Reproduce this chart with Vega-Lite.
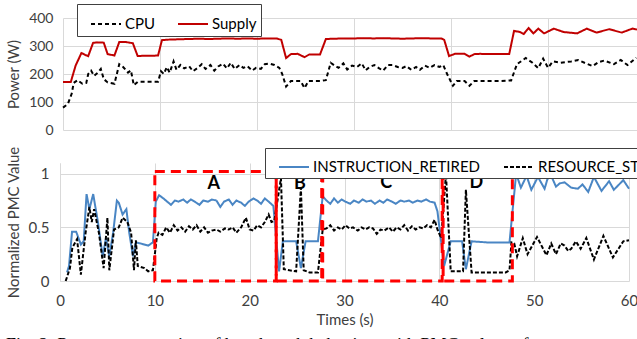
{
  "$schema": "https://vega.github.io/schema/vega-lite/v6.json",
  "padding": {"left": 5, "top": 3, "right": 0, "bottom": 0},
  "spacing": 8,
  "resolve": {"scale": {"color": "independent", "strokeDash": "independent", "x": "independent", "y": "independent"}, "legend": {"color": "independent", "strokeDash": "independent"}},
  "config": {
    "view": {"stroke": null},
    "font": "Lato",
    "axis": {"gridColor": "#D9D9D9", "gridWidth": 1, "labelColor": "#404040", "titleColor": "#404040", "titleFontWeight": "normal", "domainColor": "#D9D9D9", "ticks": false}
  },
  "title": {"text": "Fig. 2:  Power  consumption  of  benchmark  behaviors  with  PMC  values  of", "orient": "bottom", "anchor": "start", "font": "Liberation Serif", "fontSize": 18, "fontWeight": "normal", "color": "#000000", "offset": 10},
  "datasets": {
    "power": [
      {"t":0,"W":171,"s":"Supply"},{"t":0.8,"W":171,"s":"Supply"},{"t":1.3,"W":230,"s":"Supply"},{"t":1.9,"W":275,"s":"Supply"},{"t":2.3,"W":268,"s":"Supply"},{"t":2.6,"W":264,"s":"Supply"},{"t":3.1,"W":311,"s":"Supply"},{"t":3.5,"W":313,"s":"Supply"},{"t":4.2,"W":312,"s":"Supply"},{"t":4.6,"W":271,"s":"Supply"},{"t":5.3,"W":266,"s":"Supply"},{"t":5.8,"W":314,"s":"Supply"},{"t":6.5,"W":314,"s":"Supply"},{"t":7.2,"W":310,"s":"Supply"},{"t":7.7,"W":264,"s":"Supply"},{"t":8.2,"W":265,"s":"Supply"},{"t":9,"W":265,"s":"Supply"},{"t":9.8,"W":266,"s":"Supply"},{"t":10.2,"W":321,"s":"Supply"},{"t":11,"W":323,"s":"Supply"},{"t":12,"W":324,"s":"Supply"},{"t":13,"W":325,"s":"Supply"},{"t":14,"W":326,"s":"Supply"},{"t":15,"W":325,"s":"Supply"},{"t":16,"W":326,"s":"Supply"},{"t":17,"W":327,"s":"Supply"},{"t":18,"W":326,"s":"Supply"},{"t":19,"W":327,"s":"Supply"},{"t":20,"W":326,"s":"Supply"},{"t":21,"W":327,"s":"Supply"},{"t":22,"W":327,"s":"Supply"},{"t":22.5,"W":322,"s":"Supply"},{"t":23.0,"W":257,"s":"Supply"},{"t":23.5,"W":271,"s":"Supply"},{"t":24.2,"W":272,"s":"Supply"},{"t":24.9,"W":260,"s":"Supply"},{"t":25.4,"W":270,"s":"Supply"},{"t":26.5,"W":270,"s":"Supply"},{"t":27.1,"W":325,"s":"Supply"},{"t":28,"W":326,"s":"Supply"},{"t":29,"W":327,"s":"Supply"},{"t":30,"W":327,"s":"Supply"},{"t":31,"W":328,"s":"Supply"},{"t":32,"W":327,"s":"Supply"},{"t":33,"W":328,"s":"Supply"},{"t":34,"W":327,"s":"Supply"},{"t":35,"W":326,"s":"Supply"},{"t":36,"W":327,"s":"Supply"},{"t":37,"W":328,"s":"Supply"},{"t":38,"W":327,"s":"Supply"},{"t":39,"W":327,"s":"Supply"},{"t":39.3,"W":322,"s":"Supply"},{"t":39.8,"W":264,"s":"Supply"},{"t":40.4,"W":272,"s":"Supply"},{"t":41.4,"W":272,"s":"Supply"},{"t":41.9,"W":262,"s":"Supply"},{"t":42.4,"W":271,"s":"Supply"},{"t":43,"W":272,"s":"Supply"},{"t":44,"W":271,"s":"Supply"},{"t":45,"W":271,"s":"Supply"},{"t":46,"W":271,"s":"Supply"},{"t":46.5,"W":354,"s":"Supply"},{"t":47.1,"W":350,"s":"Supply"},{"t":47.5,"W":343,"s":"Supply"},{"t":48.0,"W":364,"s":"Supply"},{"t":48.5,"W":345,"s":"Supply"},{"t":49.0,"W":362,"s":"Supply"},{"t":49.6,"W":345,"s":"Supply"},{"t":50.6,"W":362,"s":"Supply"},{"t":51.6,"W":350,"s":"Supply"},{"t":53.0,"W":345,"s":"Supply"},{"t":54.0,"W":362,"s":"Supply"},{"t":55.0,"W":348,"s":"Supply"},{"t":56.3,"W":360,"s":"Supply"},{"t":57.6,"W":348,"s":"Supply"},{"t":58.7,"W":362,"s":"Supply"},{"t":59.3,"W":358,"s":"Supply"},
      {"t":0,"W":80,"s":"CPU"},{"t":0.5,"W":93,"s":"CPU"},{"t":0.9,"W":130,"s":"CPU"},{"t":1.1,"W":168,"s":"CPU"},{"t":1.5,"W":178,"s":"CPU"},{"t":2.0,"W":165,"s":"CPU"},{"t":2.4,"W":168,"s":"CPU"},{"t":2.6,"W":200,"s":"CPU"},{"t":2.9,"W":212,"s":"CPU"},{"t":3.2,"W":193,"s":"CPU"},{"t":3.6,"W":205,"s":"CPU"},{"t":3.9,"W":218,"s":"CPU"},{"t":4.2,"W":182,"s":"CPU"},{"t":4.6,"W":170,"s":"CPU"},{"t":5.3,"W":165,"s":"CPU"},{"t":5.8,"W":235,"s":"CPU"},{"t":6.2,"W":225,"s":"CPU"},{"t":6.7,"W":205,"s":"CPU"},{"t":7.0,"W":213,"s":"CPU"},{"t":7.3,"W":160,"s":"CPU"},{"t":7.7,"W":172,"s":"CPU"},{"t":8.5,"W":172,"s":"CPU"},{"t":9.8,"W":172,"s":"CPU"},{"t":10.1,"W":210,"s":"CPU"},{"t":10.4,"W":200,"s":"CPU"},{"t":10.7,"W":225,"s":"CPU"},{"t":11.0,"W":205,"s":"CPU"},{"t":11.4,"W":245,"s":"CPU"},{"t":11.7,"W":215,"s":"CPU"},{"t":12.1,"W":232,"s":"CPU"},{"t":12.5,"W":220,"s":"CPU"},{"t":13.0,"W":228,"s":"CPU"},{"t":13.4,"W":210,"s":"CPU"},{"t":13.9,"W":222,"s":"CPU"},{"t":14.3,"W":235,"s":"CPU"},{"t":14.7,"W":218,"s":"CPU"},{"t":15.2,"W":232,"s":"CPU"},{"t":15.6,"W":212,"s":"CPU"},{"t":16.0,"W":227,"s":"CPU"},{"t":16.5,"W":237,"s":"CPU"},{"t":16.9,"W":220,"s":"CPU"},{"t":17.3,"W":240,"s":"CPU"},{"t":17.7,"W":218,"s":"CPU"},{"t":18.2,"W":232,"s":"CPU"},{"t":18.6,"W":222,"s":"CPU"},{"t":19.0,"W":228,"s":"CPU"},{"t":19.5,"W":212,"s":"CPU"},{"t":19.9,"W":222,"s":"CPU"},{"t":20.4,"W":218,"s":"CPU"},{"t":20.8,"W":235,"s":"CPU"},{"t":21.3,"W":237,"s":"CPU"},{"t":21.8,"W":232,"s":"CPU"},{"t":22.3,"W":222,"s":"CPU"},{"t":22.6,"W":200,"s":"CPU"},{"t":23.0,"W":155,"s":"CPU"},{"t":23.5,"W":175,"s":"CPU"},{"t":24.0,"W":175,"s":"CPU"},{"t":24.5,"W":175,"s":"CPU"},{"t":24.9,"W":150,"s":"CPU"},{"t":25.3,"W":175,"s":"CPU"},{"t":26.5,"W":175,"s":"CPU"},{"t":27.1,"W":178,"s":"CPU"},{"t":27.6,"W":240,"s":"CPU"},{"t":28.0,"W":230,"s":"CPU"},{"t":28.4,"W":222,"s":"CPU"},{"t":28.9,"W":238,"s":"CPU"},{"t":29.3,"W":216,"s":"CPU"},{"t":29.8,"W":230,"s":"CPU"},{"t":30.3,"W":225,"s":"CPU"},{"t":30.8,"W":238,"s":"CPU"},{"t":31.2,"W":213,"s":"CPU"},{"t":31.6,"W":225,"s":"CPU"},{"t":32.1,"W":232,"s":"CPU"},{"t":32.6,"W":220,"s":"CPU"},{"t":33.0,"W":212,"s":"CPU"},{"t":33.5,"W":232,"s":"CPU"},{"t":34.0,"W":232,"s":"CPU"},{"t":34.5,"W":225,"s":"CPU"},{"t":35.0,"W":222,"s":"CPU"},{"t":35.4,"W":228,"s":"CPU"},{"t":35.9,"W":215,"s":"CPU"},{"t":36.4,"W":225,"s":"CPU"},{"t":36.8,"W":215,"s":"CPU"},{"t":37.3,"W":230,"s":"CPU"},{"t":37.8,"W":222,"s":"CPU"},{"t":38.3,"W":232,"s":"CPU"},{"t":38.8,"W":225,"s":"CPU"},{"t":39.2,"W":232,"s":"CPU"},{"t":39.6,"W":200,"s":"CPU"},{"t":40.2,"W":158,"s":"CPU"},{"t":40.6,"W":175,"s":"CPU"},{"t":41.4,"W":175,"s":"CPU"},{"t":41.9,"W":158,"s":"CPU"},{"t":42.4,"W":175,"s":"CPU"},{"t":43.5,"W":175,"s":"CPU"},{"t":45,"W":175,"s":"CPU"},{"t":46.2,"W":177,"s":"CPU"},{"t":46.8,"W":235,"s":"CPU"},{"t":47.7,"W":257,"s":"CPU"},{"t":48.4,"W":240,"s":"CPU"},{"t":49.0,"W":221,"s":"CPU"},{"t":49.5,"W":255,"s":"CPU"},{"t":50.0,"W":222,"s":"CPU"},{"t":50.5,"W":245,"s":"CPU"},{"t":51.3,"W":240,"s":"CPU"},{"t":52.4,"W":245,"s":"CPU"},{"t":53.1,"W":250,"s":"CPU"},{"t":54.1,"W":235,"s":"CPU"},{"t":54.6,"W":228,"s":"CPU"},{"t":55.2,"W":242,"s":"CPU"},{"t":55.8,"W":248,"s":"CPU"},{"t":56.8,"W":235,"s":"CPU"},{"t":57.5,"W":250,"s":"CPU"},{"t":58.2,"W":232,"s":"CPU"},{"t":59.1,"W":258,"s":"CPU"}
    ],
    "pmc": [
      {"t":0.74,"v":0.08,"s":"INSTRUCTION_RETIRED"},{"t":0.95,"v":0.14,"s":"INSTRUCTION_RETIRED"},{"t":1.27,"v":0.46,"s":"INSTRUCTION_RETIRED"},{"t":1.7,"v":0.46,"s":"INSTRUCTION_RETIRED"},{"t":2.2,"v":0.34,"s":"INSTRUCTION_RETIRED"},{"t":2.5,"v":0.37,"s":"INSTRUCTION_RETIRED"},{"t":2.8,"v":0.81,"s":"INSTRUCTION_RETIRED"},{"t":3.1,"v":0.67,"s":"INSTRUCTION_RETIRED"},{"t":3.5,"v":0.81,"s":"INSTRUCTION_RETIRED"},{"t":4.0,"v":0.55,"s":"INSTRUCTION_RETIRED"},{"t":4.5,"v":0.23,"s":"INSTRUCTION_RETIRED"},{"t":4.85,"v":0.40,"s":"INSTRUCTION_RETIRED"},{"t":5.2,"v":0.23,"s":"INSTRUCTION_RETIRED"},{"t":5.6,"v":0.45,"s":"INSTRUCTION_RETIRED"},{"t":6.0,"v":0.75,"s":"INSTRUCTION_RETIRED"},{"t":6.2,"v":0.73,"s":"INSTRUCTION_RETIRED"},{"t":6.6,"v":0.62,"s":"INSTRUCTION_RETIRED"},{"t":7.0,"v":0.67,"s":"INSTRUCTION_RETIRED"},{"t":7.3,"v":0.45,"s":"INSTRUCTION_RETIRED"},{"t":7.7,"v":0.23,"s":"INSTRUCTION_RETIRED"},{"t":8.0,"v":0.36,"s":"INSTRUCTION_RETIRED"},{"t":8.5,"v":0.35,"s":"INSTRUCTION_RETIRED"},{"t":9.3,"v":0.33,"s":"INSTRUCTION_RETIRED"},{"t":9.8,"v":0.36,"s":"INSTRUCTION_RETIRED"},{"t":10.1,"v":0.74,"s":"INSTRUCTION_RETIRED"},{"t":10.45,"v":0.80,"s":"INSTRUCTION_RETIRED"},{"t":10.9,"v":0.77,"s":"INSTRUCTION_RETIRED"},{"t":11.3,"v":0.74,"s":"INSTRUCTION_RETIRED"},{"t":11.7,"v":0.71,"s":"INSTRUCTION_RETIRED"},{"t":12.1,"v":0.75,"s":"INSTRUCTION_RETIRED"},{"t":12.5,"v":0.74,"s":"INSTRUCTION_RETIRED"},{"t":13.0,"v":0.76,"s":"INSTRUCTION_RETIRED"},{"t":13.4,"v":0.73,"s":"INSTRUCTION_RETIRED"},{"t":13.8,"v":0.76,"s":"INSTRUCTION_RETIRED"},{"t":14.2,"v":0.74,"s":"INSTRUCTION_RETIRED"},{"t":14.7,"v":0.71,"s":"INSTRUCTION_RETIRED"},{"t":15.1,"v":0.75,"s":"INSTRUCTION_RETIRED"},{"t":15.6,"v":0.74,"s":"INSTRUCTION_RETIRED"},{"t":16.0,"v":0.76,"s":"INSTRUCTION_RETIRED"},{"t":16.5,"v":0.75,"s":"INSTRUCTION_RETIRED"},{"t":16.9,"v":0.69,"s":"INSTRUCTION_RETIRED"},{"t":17.3,"v":0.74,"s":"INSTRUCTION_RETIRED"},{"t":17.8,"v":0.76,"s":"INSTRUCTION_RETIRED"},{"t":18.2,"v":0.71,"s":"INSTRUCTION_RETIRED"},{"t":18.6,"v":0.75,"s":"INSTRUCTION_RETIRED"},{"t":19.1,"v":0.73,"s":"INSTRUCTION_RETIRED"},{"t":19.5,"v":0.70,"s":"INSTRUCTION_RETIRED"},{"t":19.9,"v":0.74,"s":"INSTRUCTION_RETIRED"},{"t":20.4,"v":0.77,"s":"INSTRUCTION_RETIRED"},{"t":20.8,"v":0.75,"s":"INSTRUCTION_RETIRED"},{"t":21.2,"v":0.72,"s":"INSTRUCTION_RETIRED"},{"t":21.6,"v":0.77,"s":"INSTRUCTION_RETIRED"},{"t":22.0,"v":0.74,"s":"INSTRUCTION_RETIRED"},{"t":22.5,"v":0.70,"s":"INSTRUCTION_RETIRED"},{"t":23.1,"v":0.09,"s":"INSTRUCTION_RETIRED"},{"t":23.5,"v":0.37,"s":"INSTRUCTION_RETIRED"},{"t":24.9,"v":0.37,"s":"INSTRUCTION_RETIRED"},{"t":25.4,"v":0.12,"s":"INSTRUCTION_RETIRED"},{"t":25.9,"v":0.37,"s":"INSTRUCTION_RETIRED"},{"t":27.2,"v":0.37,"s":"INSTRUCTION_RETIRED"},{"t":27.7,"v":0.79,"s":"INSTRUCTION_RETIRED"},{"t":28.1,"v":0.75,"s":"INSTRUCTION_RETIRED"},{"t":28.5,"v":0.72,"s":"INSTRUCTION_RETIRED"},{"t":28.9,"v":0.77,"s":"INSTRUCTION_RETIRED"},{"t":29.3,"v":0.73,"s":"INSTRUCTION_RETIRED"},{"t":29.7,"v":0.76,"s":"INSTRUCTION_RETIRED"},{"t":30.1,"v":0.74,"s":"INSTRUCTION_RETIRED"},{"t":30.6,"v":0.72,"s":"INSTRUCTION_RETIRED"},{"t":31.0,"v":0.75,"s":"INSTRUCTION_RETIRED"},{"t":31.5,"v":0.73,"s":"INSTRUCTION_RETIRED"},{"t":31.9,"v":0.76,"s":"INSTRUCTION_RETIRED"},{"t":32.3,"v":0.74,"s":"INSTRUCTION_RETIRED"},{"t":32.8,"v":0.75,"s":"INSTRUCTION_RETIRED"},{"t":33.2,"v":0.72,"s":"INSTRUCTION_RETIRED"},{"t":33.7,"v":0.75,"s":"INSTRUCTION_RETIRED"},{"t":34.1,"v":0.73,"s":"INSTRUCTION_RETIRED"},{"t":34.5,"v":0.76,"s":"INSTRUCTION_RETIRED"},{"t":35.0,"v":0.74,"s":"INSTRUCTION_RETIRED"},{"t":35.4,"v":0.72,"s":"INSTRUCTION_RETIRED"},{"t":35.9,"v":0.75,"s":"INSTRUCTION_RETIRED"},{"t":36.3,"v":0.74,"s":"INSTRUCTION_RETIRED"},{"t":36.8,"v":0.75,"s":"INSTRUCTION_RETIRED"},{"t":37.2,"v":0.73,"s":"INSTRUCTION_RETIRED"},{"t":37.7,"v":0.75,"s":"INSTRUCTION_RETIRED"},{"t":38.1,"v":0.74,"s":"INSTRUCTION_RETIRED"},{"t":38.6,"v":0.76,"s":"INSTRUCTION_RETIRED"},{"t":39.0,"v":0.74,"s":"INSTRUCTION_RETIRED"},{"t":39.5,"v":0.73,"s":"INSTRUCTION_RETIRED"},{"t":39.8,"v":0.65,"s":"INSTRUCTION_RETIRED"},{"t":40.5,"v":0.14,"s":"INSTRUCTION_RETIRED"},{"t":41.2,"v":0.37,"s":"INSTRUCTION_RETIRED"},{"t":42.4,"v":0.37,"s":"INSTRUCTION_RETIRED"},{"t":42.8,"v":0.11,"s":"INSTRUCTION_RETIRED"},{"t":43.4,"v":0.37,"s":"INSTRUCTION_RETIRED"},{"t":45,"v":0.36,"s":"INSTRUCTION_RETIRED"},{"t":47.4,"v":0.36,"s":"INSTRUCTION_RETIRED"},{"t":48.1,"v":1.0,"s":"INSTRUCTION_RETIRED"},{"t":48.6,"v":0.87,"s":"INSTRUCTION_RETIRED"},{"t":49.2,"v":0.98,"s":"INSTRUCTION_RETIRED"},{"t":49.7,"v":0.85,"s":"INSTRUCTION_RETIRED"},{"t":50.4,"v":0.97,"s":"INSTRUCTION_RETIRED"},{"t":51.1,"v":0.86,"s":"INSTRUCTION_RETIRED"},{"t":51.4,"v":0.95,"s":"INSTRUCTION_RETIRED"},{"t":51.8,"v":0.98,"s":"INSTRUCTION_RETIRED"},{"t":52.3,"v":0.88,"s":"INSTRUCTION_RETIRED"},{"t":52.7,"v":0.91,"s":"INSTRUCTION_RETIRED"},{"t":53.2,"v":0.92,"s":"INSTRUCTION_RETIRED"},{"t":53.9,"v":0.87,"s":"INSTRUCTION_RETIRED"},{"t":54.6,"v":0.86,"s":"INSTRUCTION_RETIRED"},{"t":55.1,"v":0.90,"s":"INSTRUCTION_RETIRED"},{"t":55.7,"v":0.83,"s":"INSTRUCTION_RETIRED"},{"t":56.3,"v":0.97,"s":"INSTRUCTION_RETIRED"},{"t":57.1,"v":0.84,"s":"INSTRUCTION_RETIRED"},{"t":57.9,"v":0.93,"s":"INSTRUCTION_RETIRED"},{"t":58.4,"v":0.85,"s":"INSTRUCTION_RETIRED"},{"t":59.4,"v":0.94,"s":"INSTRUCTION_RETIRED"},{"t":60,"v":0.86,"s":"INSTRUCTION_RETIRED"},
      {"t":0.6,"v":0.0,"s":"RESOURCE_STALLS"},{"t":1.05,"v":0.12,"s":"RESOURCE_STALLS"},{"t":1.3,"v":0.31,"s":"RESOURCE_STALLS"},{"t":1.8,"v":0.39,"s":"RESOURCE_STALLS"},{"t":2.2,"v":0.06,"s":"RESOURCE_STALLS"},{"t":2.7,"v":0.45,"s":"RESOURCE_STALLS"},{"t":3.1,"v":0.69,"s":"RESOURCE_STALLS"},{"t":3.35,"v":0.55,"s":"RESOURCE_STALLS"},{"t":3.6,"v":0.67,"s":"RESOURCE_STALLS"},{"t":4.1,"v":0.45,"s":"RESOURCE_STALLS"},{"t":4.6,"v":0.12,"s":"RESOURCE_STALLS"},{"t":5.0,"v":0.59,"s":"RESOURCE_STALLS"},{"t":5.2,"v":0.10,"s":"RESOURCE_STALLS"},{"t":5.7,"v":0.48,"s":"RESOURCE_STALLS"},{"t":6.2,"v":0.50,"s":"RESOURCE_STALLS"},{"t":6.6,"v":0.59,"s":"RESOURCE_STALLS"},{"t":7.1,"v":0.55,"s":"RESOURCE_STALLS"},{"t":7.5,"v":0.45,"s":"RESOURCE_STALLS"},{"t":7.8,"v":0.10,"s":"RESOURCE_STALLS"},{"t":8.0,"v":0.38,"s":"RESOURCE_STALLS"},{"t":8.2,"v":0.14,"s":"RESOURCE_STALLS"},{"t":8.9,"v":0.12,"s":"RESOURCE_STALLS"},{"t":9.3,"v":0.09,"s":"RESOURCE_STALLS"},{"t":9.8,"v":0.10,"s":"RESOURCE_STALLS"},{"t":10.2,"v":0.40,"s":"RESOURCE_STALLS"},{"t":10.4,"v":0.45,"s":"RESOURCE_STALLS"},{"t":10.8,"v":0.43,"s":"RESOURCE_STALLS"},{"t":11.2,"v":0.50,"s":"RESOURCE_STALLS"},{"t":11.6,"v":0.45,"s":"RESOURCE_STALLS"},{"t":12.0,"v":0.52,"s":"RESOURCE_STALLS"},{"t":12.4,"v":0.47,"s":"RESOURCE_STALLS"},{"t":12.8,"v":0.50,"s":"RESOURCE_STALLS"},{"t":13.2,"v":0.46,"s":"RESOURCE_STALLS"},{"t":13.6,"v":0.51,"s":"RESOURCE_STALLS"},{"t":14.0,"v":0.48,"s":"RESOURCE_STALLS"},{"t":14.4,"v":0.52,"s":"RESOURCE_STALLS"},{"t":14.8,"v":0.46,"s":"RESOURCE_STALLS"},{"t":15.2,"v":0.50,"s":"RESOURCE_STALLS"},{"t":15.6,"v":0.45,"s":"RESOURCE_STALLS"},{"t":16.0,"v":0.47,"s":"RESOURCE_STALLS"},{"t":16.5,"v":0.48,"s":"RESOURCE_STALLS"},{"t":16.9,"v":0.46,"s":"RESOURCE_STALLS"},{"t":17.4,"v":0.49,"s":"RESOURCE_STALLS"},{"t":17.8,"v":0.48,"s":"RESOURCE_STALLS"},{"t":18.2,"v":0.50,"s":"RESOURCE_STALLS"},{"t":18.6,"v":0.45,"s":"RESOURCE_STALLS"},{"t":19.1,"v":0.50,"s":"RESOURCE_STALLS"},{"t":19.6,"v":0.59,"s":"RESOURCE_STALLS"},{"t":20.0,"v":0.48,"s":"RESOURCE_STALLS"},{"t":20.4,"v":0.47,"s":"RESOURCE_STALLS"},{"t":20.8,"v":0.52,"s":"RESOURCE_STALLS"},{"t":21.2,"v":0.50,"s":"RESOURCE_STALLS"},{"t":21.6,"v":0.55,"s":"RESOURCE_STALLS"},{"t":22.0,"v":0.62,"s":"RESOURCE_STALLS"},{"t":22.3,"v":0.55,"s":"RESOURCE_STALLS"},{"t":22.6,"v":0.56,"s":"RESOURCE_STALLS"},{"t":23.3,"v":0.96,"s":"RESOURCE_STALLS"},{"t":23.6,"v":0.11,"s":"RESOURCE_STALLS"},{"t":24.2,"v":0.10,"s":"RESOURCE_STALLS"},{"t":24.9,"v":0.09,"s":"RESOURCE_STALLS"},{"t":25.4,"v":0.87,"s":"RESOURCE_STALLS"},{"t":25.7,"v":0.10,"s":"RESOURCE_STALLS"},{"t":26.3,"v":0.08,"s":"RESOURCE_STALLS"},{"t":27.2,"v":0.08,"s":"RESOURCE_STALLS"},{"t":27.7,"v":0.48,"s":"RESOURCE_STALLS"},{"t":28.1,"v":0.49,"s":"RESOURCE_STALLS"},{"t":28.5,"v":0.52,"s":"RESOURCE_STALLS"},{"t":28.9,"v":0.47,"s":"RESOURCE_STALLS"},{"t":29.3,"v":0.50,"s":"RESOURCE_STALLS"},{"t":29.7,"v":0.48,"s":"RESOURCE_STALLS"},{"t":30.1,"v":0.52,"s":"RESOURCE_STALLS"},{"t":30.5,"v":0.49,"s":"RESOURCE_STALLS"},{"t":30.9,"v":0.50,"s":"RESOURCE_STALLS"},{"t":31.4,"v":0.47,"s":"RESOURCE_STALLS"},{"t":31.8,"v":0.50,"s":"RESOURCE_STALLS"},{"t":32.2,"v":0.48,"s":"RESOURCE_STALLS"},{"t":32.6,"v":0.50,"s":"RESOURCE_STALLS"},{"t":33.0,"v":0.49,"s":"RESOURCE_STALLS"},{"t":33.4,"v":0.44,"s":"RESOURCE_STALLS"},{"t":33.8,"v":0.48,"s":"RESOURCE_STALLS"},{"t":34.2,"v":0.47,"s":"RESOURCE_STALLS"},{"t":34.7,"v":0.50,"s":"RESOURCE_STALLS"},{"t":35.1,"v":0.46,"s":"RESOURCE_STALLS"},{"t":35.5,"v":0.50,"s":"RESOURCE_STALLS"},{"t":35.9,"v":0.48,"s":"RESOURCE_STALLS"},{"t":36.3,"v":0.52,"s":"RESOURCE_STALLS"},{"t":36.7,"v":0.47,"s":"RESOURCE_STALLS"},{"t":37.1,"v":0.51,"s":"RESOURCE_STALLS"},{"t":37.5,"v":0.48,"s":"RESOURCE_STALLS"},{"t":37.9,"v":0.50,"s":"RESOURCE_STALLS"},{"t":38.3,"v":0.49,"s":"RESOURCE_STALLS"},{"t":38.7,"v":0.52,"s":"RESOURCE_STALLS"},{"t":39.1,"v":0.50,"s":"RESOURCE_STALLS"},{"t":39.5,"v":0.57,"s":"RESOURCE_STALLS"},{"t":39.8,"v":0.48,"s":"RESOURCE_STALLS"},{"t":40.2,"v":0.40,"s":"RESOURCE_STALLS"},{"t":40.7,"v":1.0,"s":"RESOURCE_STALLS"},{"t":41.2,"v":0.09,"s":"RESOURCE_STALLS"},{"t":42.0,"v":0.09,"s":"RESOURCE_STALLS"},{"t":42.5,"v":0.09,"s":"RESOURCE_STALLS"},{"t":42.8,"v":0.85,"s":"RESOURCE_STALLS"},{"t":43.4,"v":0.08,"s":"RESOURCE_STALLS"},{"t":45,"v":0.08,"s":"RESOURCE_STALLS"},{"t":47.0,"v":0.08,"s":"RESOURCE_STALLS"},{"t":47.4,"v":0.10,"s":"RESOURCE_STALLS"},{"t":47.6,"v":0.36,"s":"RESOURCE_STALLS"},{"t":47.9,"v":0.35,"s":"RESOURCE_STALLS"},{"t":48.2,"v":0.23,"s":"RESOURCE_STALLS"},{"t":48.8,"v":0.40,"s":"RESOURCE_STALLS"},{"t":49.3,"v":0.25,"s":"RESOURCE_STALLS"},{"t":49.8,"v":0.33,"s":"RESOURCE_STALLS"},{"t":50.3,"v":0.41,"s":"RESOURCE_STALLS"},{"t":51.3,"v":0.24,"s":"RESOURCE_STALLS"},{"t":51.8,"v":0.35,"s":"RESOURCE_STALLS"},{"t":52.3,"v":0.25,"s":"RESOURCE_STALLS"},{"t":52.8,"v":0.35,"s":"RESOURCE_STALLS"},{"t":53.2,"v":0.33,"s":"RESOURCE_STALLS"},{"t":53.6,"v":0.28,"s":"RESOURCE_STALLS"},{"t":53.9,"v":0.30,"s":"RESOURCE_STALLS"},{"t":54.4,"v":0.37,"s":"RESOURCE_STALLS"},{"t":54.9,"v":0.30,"s":"RESOURCE_STALLS"},{"t":55.5,"v":0.40,"s":"RESOURCE_STALLS"},{"t":56.3,"v":0.20,"s":"RESOURCE_STALLS"},{"t":57.3,"v":0.42,"s":"RESOURCE_STALLS"},{"t":58.3,"v":0.22,"s":"RESOURCE_STALLS"},{"t":59.4,"v":0.37,"s":"RESOURCE_STALLS"},{"t":60,"v":0.38,"s":"RESOURCE_STALLS"}
    ],
    "boxes": [
      {"x1":10.0,"x2":22.8,"y1":0,"y2":1.02,"label":"A","lx":16.2,"ly":0.90},
      {"x1":22.8,"x2":27.6,"y1":0,"y2":1.04,"label":"B","lx":25.3,"ly":0.90},
      {"x1":27.7,"x2":40.3,"y1":0,"y2":1.03,"label":"C","lx":34.4,"ly":0.91},
      {"x1":40.4,"x2":47.7,"y1":0,"y2":1.05,"label":"D","lx":43.9,"ly":0.91}
    ]
  },
  "vconcat": [
    {
      "width": 585,
      "height": 112,
      "data": {"name": "power"},
      "mark": {"type": "line", "strokeWidth": 2},
      "encoding": {
        "x": {"field": "t", "type": "quantitative", "scale": {"domain": [0, 60], "nice": false, "range": [3, 585]},
              "axis": {"values": [0, 10, 20, 30, 40, 50, 60], "labels": false, "domain": false, "title": null, "grid": true, "minExtent": 0, "maxExtent": 0}},
        "y": {"field": "W", "type": "quantitative", "scale": {"domain": [0, 400], "nice": false},
              "axis": {"values": [0, 100, 200, 300, 400], "title": "Power (W)", "titleFontSize": 15, "labelFontSize": 14, "labelPadding": 7, "domain": false, "minExtent": 36, "maxExtent": 36, "titlePadding": 3}},
        "color": {"field": "s", "type": "nominal", "scale": {"domain": ["CPU", "Supply"], "range": ["#000000", "#C00000"]},
                  "legend": {"orient": "none", "legendX": 17, "legendY": -14, "direction": "horizontal", "title": null, "symbolType": "stroke", "symbolSize": 900, "symbolStrokeWidth": 2, "labelFontSize": 15, "labelColor": "#000000", "strokeColor": "#404040", "fillColor": "#FFFFFF", "padding": 4, "symbolOffset": 9, "columnPadding": 12, "labelOffset": 3}},
        "strokeDash": {"field": "s", "type": "nominal", "scale": {"domain": ["CPU", "Supply"], "range": [[4, 3], [1, 0]]},
                  "legend": {"orient": "none", "legendX": 17, "legendY": -14, "direction": "horizontal", "title": null, "symbolType": "stroke", "symbolSize": 900, "symbolStrokeWidth": 2, "labelFontSize": 15, "labelColor": "#000000", "strokeColor": "#404040", "fillColor": "#FFFFFF", "padding": 4, "symbolOffset": 9, "columnPadding": 12, "labelOffset": 3}}
      }
    },
    {
      "width": 569,
      "height": 118,
      "layer": [
        {
          "data": {"name": "pmc"},
          "mark": {"type": "line", "strokeWidth": 2},
          "encoding": {
            "x": {"field": "t", "type": "quantitative", "scale": {"domain": [0, 60], "nice": false},
                  "axis": {"values": [0, 10, 20, 30, 40, 50, 60], "labelFlush": false, "title": "Times (s)", "titleFontSize": 15, "labelFontSize": 15, "labelPadding": 12, "titlePadding": 4, "domain": false, "grid": true}},
            "y": {"field": "v", "type": "quantitative", "scale": {"domain": [0, 1.1], "nice": false},
                  "axis": {"values": [0, 0.5, 1], "labelExpr": "datum.value + ''", "title": "Normalized PMC Value", "titleFontSize": 15, "labelFontSize": 15, "labelPadding": 11, "domain": true, "minExtent": 36, "maxExtent": 36, "titlePadding": 3}},
            "color": {"field": "s", "type": "nominal", "scale": {"domain": ["INSTRUCTION_RETIRED", "RESOURCE_STALLS"], "range": ["#4A86C4", "#000000"]},
                      "legend": {"orient": "none", "legendX": 205, "legendY": -15, "direction": "horizontal", "title": null, "symbolType": "stroke", "symbolSize": 900, "symbolStrokeWidth": 2, "labelFontSize": 15, "labelColor": "#000000", "strokeColor": "#404040", "fillColor": "#FFFFFF", "padding": 3, "symbolOffset": 10, "columnPadding": 12, "labelOffset": 3, "labelLimit": 300}},
            "strokeDash": {"field": "s", "type": "nominal", "scale": {"domain": ["INSTRUCTION_RETIRED", "RESOURCE_STALLS"], "range": [[1, 0], [4, 2]]},
                      "legend": {"orient": "none", "legendX": 205, "legendY": -15, "direction": "horizontal", "title": null, "symbolType": "stroke", "symbolSize": 900, "symbolStrokeWidth": 2, "labelFontSize": 15, "labelColor": "#000000", "strokeColor": "#404040", "fillColor": "#FFFFFF", "padding": 3, "symbolOffset": 10, "columnPadding": 12, "labelOffset": 3, "labelLimit": 300}}
          }
        },
        {
          "data": {"name": "boxes"},
          "mark": {"type": "rect", "fillOpacity": 0, "stroke": "#FF0000", "strokeWidth": 3, "strokeDash": [10, 6]},
          "encoding": {
            "x": {"field": "x1", "type": "quantitative"},
            "x2": {"field": "x2"},
            "y": {"field": "y1", "type": "quantitative"},
            "y2": {"field": "y2"}
          }
        },
        {
          "data": {"name": "boxes"},
          "mark": {"type": "text", "fontSize": 18, "fontWeight": "bold", "color": "#000000"},
          "encoding": {
            "x": {"field": "lx", "type": "quantitative"},
            "y": {"field": "ly", "type": "quantitative"},
            "text": {"field": "label"}
          }
        }
      ]
    }
  ]
}
